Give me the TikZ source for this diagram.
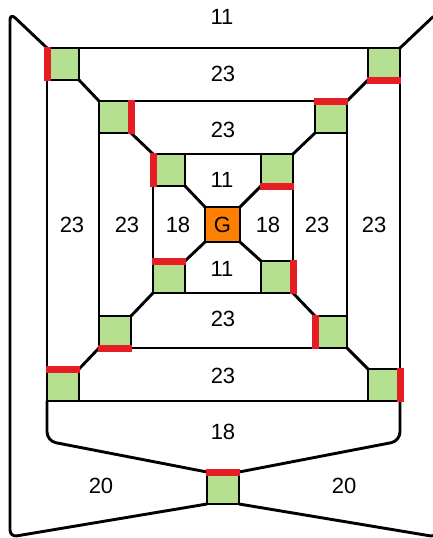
\documentclass[tikz,border=0pt]{standalone}
\usepackage{fontspec}
\setmainfont{Liberation Sans}
\definecolor{boxgreen}{RGB}{180,224,143}
\definecolor{barred}{RGB}{228,30,36}
\definecolor{gorange}{RGB}{255,128,0}

\begin{document}
\begin{tikzpicture}[x=1pt,y=-1pt,
  wire/.style={line width=2.9pt, line join=round},
  gbox/.style={draw, line width=2.9pt, fill=boxgreen, minimum size=32pt, inner sep=0pt, outer sep=0pt},
  gnode/.style={draw, line width=2.9pt, fill=gorange, minimum size=35pt, inner sep=0pt, outer sep=0pt, font=\fontsize{22}{26}\selectfont},
  redbar/.style={line width=7pt, barred, shorten <=-1.45pt, shorten >=-1.45pt},
  lbl/.style={inner sep=0pt, font=\fontsize{22}{26}\selectfont}]
\useasboundingbox (0,0) rectangle (433,538);
\clip (0,0) rectangle (433,538);
\node[gbox] (sq1nw) at (63,64) {};
\node[gbox] (sq1ne) at (384,64) {};
\node[gbox] (sq1sw) at (63,385) {};
\node[gbox] (sq1se) at (384,385) {};
\node[gbox] (sq2nw) at (115,117) {};
\node[gbox] (sq2ne) at (331,117) {};
\node[gbox] (sq2sw) at (115,332) {};
\node[gbox] (sq2se) at (331,332) {};
\node[gbox] (sq3nw) at (169,170) {};
\node[gbox] (sq3ne) at (277,170) {};
\node[gbox] (sq3sw) at (169,277) {};
\node[gbox] (sq3se) at (277,277) {};
\node[gnode] (g) at (222.5,224.5) {G};
\node[gbox] (sqbot) at (223,488) {};
\draw[wire] (sq1nw.north east) -- (sq1ne.north west);
\draw[wire] (sq1nw.south west) -- (sq1sw.north west);
\draw[wire] (sq1ne.south east) -- (sq1se.north east);
\draw[wire] (sq1sw.south east) -- (sq1se.south west);
\draw[wire] (sq2nw.north east) -- (sq2ne.north west);
\draw[wire] (sq2nw.south west) -- (sq2sw.north west);
\draw[wire] (sq2ne.south east) -- (sq2se.north east);
\draw[wire] (sq2sw.south east) -- (sq2se.south west);
\draw[wire] (sq3nw.north east) -- (sq3ne.north west);
\draw[wire] (sq3nw.south west) -- (sq3sw.north west);
\draw[wire] (sq3ne.south east) -- (sq3se.north east);
\draw[wire] (sq3sw.south east) -- (sq3se.south west);
\draw[wire] (sq1nw.south east) -- (sq2nw.north west);
\draw[wire] (sq1ne.south west) -- (sq2ne.north east);
\draw[wire] (sq1sw.north east) -- (sq2sw.south west);
\draw[wire] (sq1se.north west) -- (sq2se.south east);
\draw[wire] (sq2nw.south east) -- (sq3nw.north west);
\draw[wire] (sq2ne.south west) -- (sq3ne.north east);
\draw[wire] (sq2sw.north east) -- (sq3sw.south west);
\draw[wire] (sq2se.north west) -- (sq3se.south east);
\draw[wire] (sq3nw.south east) -- (g.north west);
\draw[wire] (sq3ne.south west) -- (g.north east);
\draw[wire] (sq3sw.north east) -- (g.south west);
\draw[wire] (sq3se.north west) -- (g.south east);
\draw[wire, rounded corners=7pt] (sq1nw.north west) -- (10,13) -- (10,537) -- (sqbot.south west);
\draw[wire, rounded corners=7pt] (sq1ne.north east) -- (437,13) -- (437,537) -- (sqbot.south east);
\draw[wire, rounded corners=9pt] (sq1sw.south west) -- (47,441) -- (sqbot.north west);
\draw[wire, rounded corners=9pt] (sq1se.south east) -- (400,441) -- (sqbot.north east);
\draw[redbar] (sq1nw.north west) -- (sq1nw.south west);
\draw[redbar] (sq1ne.south west) -- (sq1ne.south east);
\draw[redbar] (sq1sw.north west) -- (sq1sw.north east);
\draw[redbar] (sq1se.north east) -- (sq1se.south east);
\draw[redbar] (sq2nw.north east) -- (sq2nw.south east);
\draw[redbar] (sq2ne.north west) -- (sq2ne.north east);
\draw[redbar] (sq2sw.south west) -- (sq2sw.south east);
\draw[redbar] (sq2se.north west) -- (sq2se.south west);
\draw[redbar] (sq3nw.north west) -- (sq3nw.south west);
\draw[redbar] (sq3ne.south west) -- (sq3ne.south east);
\draw[redbar] (sq3sw.north west) -- (sq3sw.north east);
\draw[redbar] (sq3se.north east) -- (sq3se.south east);
\draw[redbar] (sqbot.north west) -- (sqbot.north east);
\node[lbl] (w11top) at (222,17) {11};
\node[lbl] (w23top1) at (223,74) {23};
\node[lbl] (w23top2) at (223,130) {23};
\node[lbl] (w11top3) at (222,180) {11};
\node[lbl] (w18left) at (178,225) {18};
\node[lbl] (w18right) at (268,225) {18};
\node[lbl] (w11bot3) at (222,269) {11};
\node[lbl] (w23bot2) at (223,319) {23};
\node[lbl] (w23bot1) at (223,376) {23};
\node[lbl] (w18bot) at (223,432) {18};
\node[lbl] (w20left) at (101,486) {20};
\node[lbl] (w20right) at (344,486) {20};
\node[lbl] (w23left1) at (72,225) {23};
\node[lbl] (w23left2) at (127,225) {23};
\node[lbl] (w23right2) at (317,225) {23};
\node[lbl] (w23right1) at (374,225) {23};
\end{tikzpicture}
\end{document}
